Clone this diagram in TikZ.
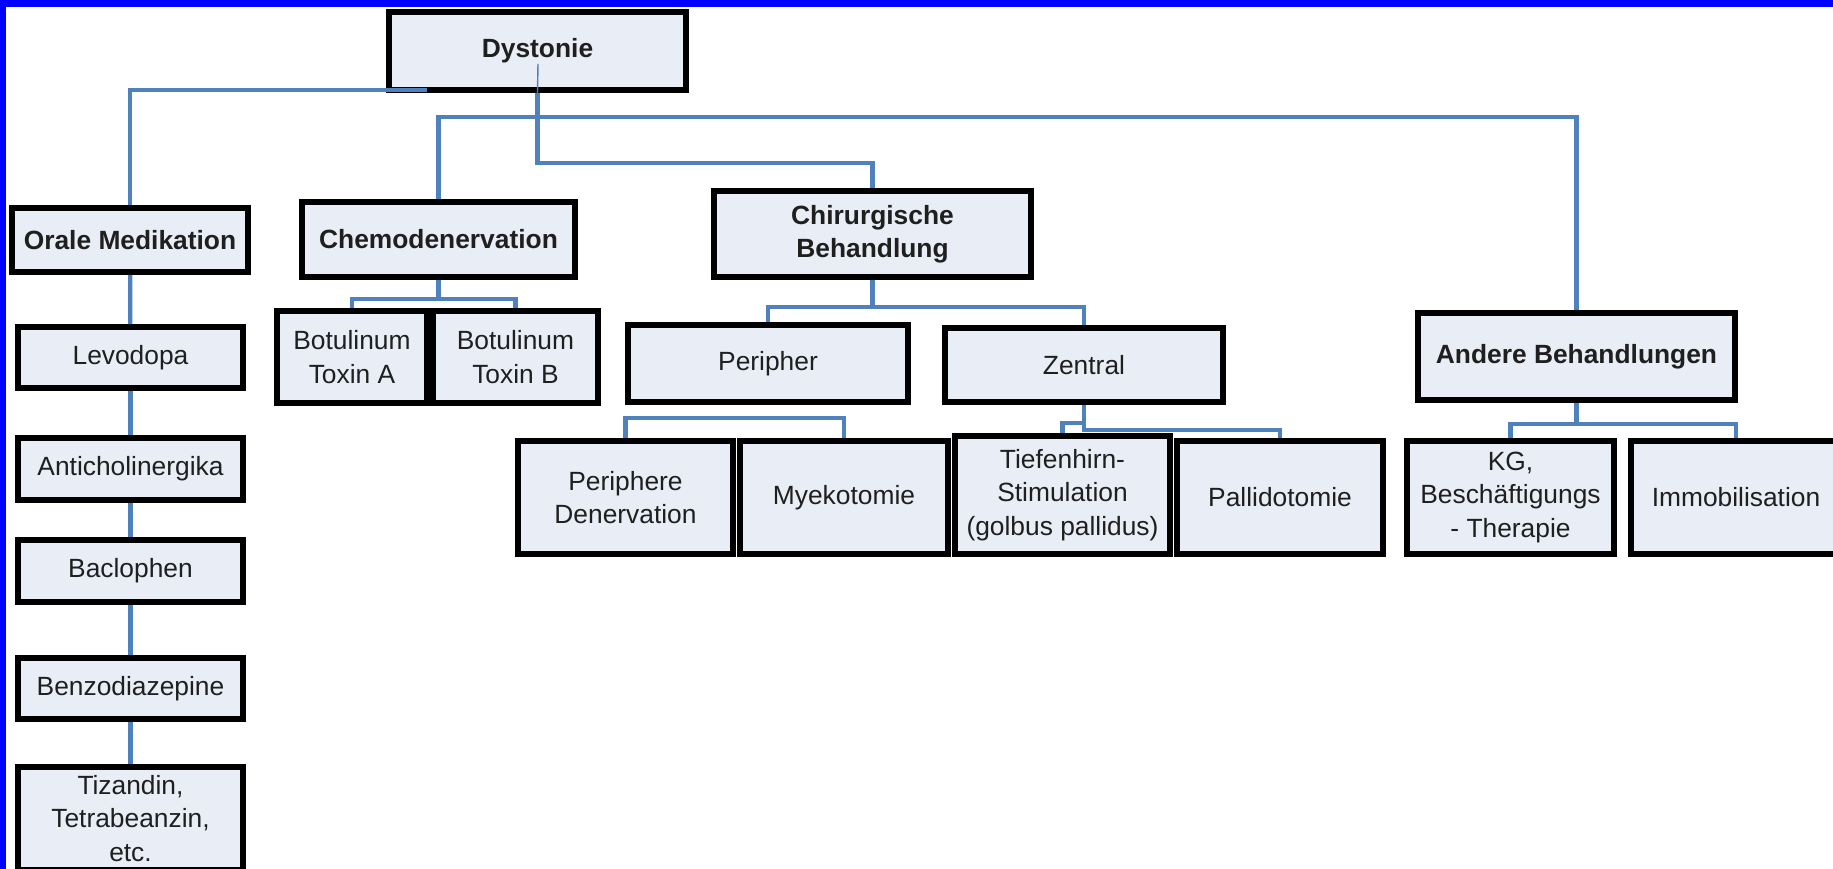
\documentclass[tikz,border=0pt]{standalone}
\usepackage{fontspec}
\setmainfont{Liberation Sans}
\definecolor{linkblue}{RGB}{79,129,189}
\definecolor{boxfill}{RGB}{232,237,246}
\definecolor{frameblue}{RGB}{0,0,255}

\begin{document}
\begin{tikzpicture}[x=0.1mm, y=-0.1mm,
      link/.style={draw=linkblue, line width=1.2pt},
      box/.style={draw=black, line width=1.6pt, fill=boxfill, align=center,
                  inner sep=0pt, text=black!88,
                  font=\fontsize{7.5}{9.5}\selectfont},
      head/.style={box, font=\fontsize{7.5}{9.5}\selectfont\bfseries}
    ]
    \useasboundingbox (0,0) rectangle (1833,869);
    \fill[white] (0,0) rectangle (1833,869);
    \fill[frameblue] (0,0) rectangle (1833,7);
    \fill[frameblue] (0,0) rectangle (6,869);

    % first level
    \node[head, minimum width=29.7mm, minimum height=7.8mm] (dyst) at (537.5,51) {Dystonie};
    \node[head, minimum width=23.6mm, minimum height=6.4mm] (orale) at (130,240) {Orale Medikation};
    \node[head, minimum width=27.3mm, minimum height=7.5mm] (chemo) at (438.5,239.5) {Chemodenervation};
    \node[head, minimum width=31.7mm, minimum height=8.6mm] (chir) at (872.5,234) {Chirurgische\\Behandlung};
    \node[head, minimum width=31.7mm, minimum height=8.7mm] (andere) at (1576.5,356.5) {Andere Behandlungen};

    % oral medication
    \node[box, minimum width=22.5mm, minimum height=6.1mm] (levo) at (130.5,357.5) {Levodopa};
    \node[box, minimum width=22.5mm, minimum height=6.2mm] (anti) at (130.5,469) {Anticholinergika};
    \node[box, minimum width=22.5mm, minimum height=6.2mm] (baclo) at (130.5,571) {Baclophen};
    \node[box, minimum width=22.5mm, minimum height=6.1mm] (benzo) at (130.5,688.5) {Benzodiazepine};
    \node[box, minimum width=22.5mm, minimum height=10.3mm] (tiz) at (130.5,818.5) {Tizandin,\\Tetrabeanzin,\\etc.};

    % chemodenervation
    \node[box, minimum width=15.0mm, minimum height=9.2mm] (bota) at (352,357) {Botulinum\\Toxin A};
    \node[box, minimum width=16.5mm, minimum height=9.2mm] (botb) at (515.5,357) {Botulinum\\Toxin B};

    % surgery
    \node[box, minimum width=28.0mm, minimum height=7.7mm] (peri) at (768,363.5) {Peripher};
    \node[box, minimum width=27.8mm, minimum height=7.4mm] (zent) at (1084,365) {Zentral};
    \node[box, minimum width=21.5mm, minimum height=11.3mm] (pden) at (625.5,497.5) {Periphere\\Denervation};
    \node[box, minimum width=20.8mm, minimum height=11.3mm] (myek) at (844,497.5) {Myekotomie};
    \node[box, minimum width=21.5mm, minimum height=11.8mm] (tief) at (1062.5,495) {Tiefenhirn-\\Stimulation\\(golbus pallidus)};
    \node[box, minimum width=20.6mm, minimum height=11.3mm] (palli) at (1280,497.5) {Pallidotomie};

    % other treatments
    \node[box, minimum width=20.7mm, minimum height=11.3mm] (kg) at (1510.5,497.5) {KG,\\Beschäftigungs\\- Therapie};
    \node[box, minimum width=21.0mm, minimum height=11.3mm] (immo) at (1736,497.5) {Immobilisation};

    % connectors
    \coordinate (dtick) at (538,64);
    \coordinate (oralejoin) at (427,90);
    \coordinate (bar) at (538,117);
    \draw[linkblue, line width=0.4pt] (dtick) -- (dyst.south);
    \draw[link] (oralejoin) -| (orale.north);
    \draw[link] (dyst.south) -- ++(0,70) -| (chir.north);
    \draw[link] (chemo.north) |- (bar) -| (andere.north);

    \draw[link] (orale) -- (levo);
    \draw[link] (levo) -- (anti);
    \draw[link] (anti) -- (baclo);
    \draw[link] (baclo) -- (benzo);
    \draw[link] (benzo) -- (tiz);

    \draw[link] (chemo.south) -- ++(0,19) -| (bota.north);
    \draw[link] (chemo.south) -- ++(0,19) -| (botb.north);

    \draw[link] (chir.south) -- ++(0,27) -| (peri.north);
    \draw[link] (chir.south) -- ++(0,27) -| (zent.north);
    \draw[link] (pden.north) -- ++(0,-20) -| (myek.north);
    \draw[link] (zent.south) -- ++(0,25) -| (palli.north);
    \draw[link] (zent.south) -- ++(0,18) -| (tief.north);

    \draw[link] (andere.south) -- ++(0,21) -| (kg.north);
    \draw[link] (andere.south) -- ++(0,21) -| (immo.north);
  \end{tikzpicture}
\end{document}
